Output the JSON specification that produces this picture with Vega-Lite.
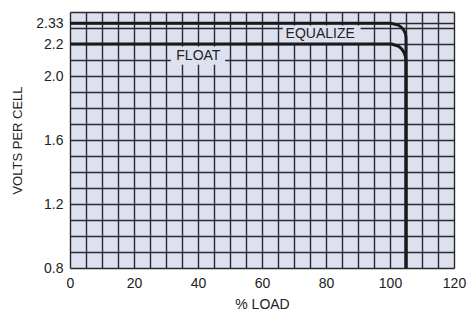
{
  "$schema": "https://vega.github.io/schema/vega-lite/v6.json",
  "width": 384,
  "height": 256,
  "autosize": {"type": "none"},
  "padding": {"left": 70, "top": 12, "right": 15, "bottom": 50},
  "background": "white",
  "config": {"view": {"fill": "#dde0ee", "stroke": null}, "font": "Liberation Sans"},
  "datasets": {
    "curves": [
      {"series": "EQUALIZE", "i": 1, "x": 0, "y": 2.33},
      {"series": "EQUALIZE", "i": 2, "x": 100.2, "y": 2.33},
      {"series": "EQUALIZE", "i": 3, "x": 102.6, "y": 2.318},
      {"series": "EQUALIZE", "i": 4, "x": 103.6, "y": 2.304},
      {"series": "EQUALIZE", "i": 5, "x": 104.35, "y": 2.285},
      {"series": "EQUALIZE", "i": 6, "x": 104.85, "y": 2.263},
      {"series": "EQUALIZE", "i": 7, "x": 105, "y": 2.24},
      {"series": "EQUALIZE", "i": 8, "x": 105, "y": 0.8},
      {"series": "FLOAT", "i": 1, "x": 0, "y": 2.2},
      {"series": "FLOAT", "i": 2, "x": 100.5, "y": 2.2},
      {"series": "FLOAT", "i": 3, "x": 102.7, "y": 2.186},
      {"series": "FLOAT", "i": 4, "x": 103.7, "y": 2.168},
      {"series": "FLOAT", "i": 5, "x": 104.4, "y": 2.146},
      {"series": "FLOAT", "i": 6, "x": 104.85, "y": 2.12},
      {"series": "FLOAT", "i": 7, "x": 105, "y": 2.09},
      {"series": "FLOAT", "i": 8, "x": 105, "y": 0.8}
    ],
    "boxes": [
      {"label": "EQUALIZE", "x": 66.5, "x2": 90.8, "y": 2.205, "y2": 2.315},
      {"label": "FLOAT", "x": 31.5, "x2": 48.5, "y": 2.07, "y2": 2.185}
    ],
    "labels": [
      {"label": "EQUALIZE", "x": 78.2, "y": 2.261},
      {"label": "FLOAT", "x": 40.1, "y": 2.125}
    ]
  },
  "encoding": {
    "x": {
      "field": "x",
      "type": "quantitative",
      "scale": {"domain": [0, 120], "nice": false, "zero": false},
      "axis": {
        "title": "% LOAD",
        "values": [0, 5, 10, 15, 20, 25, 30, 35, 40, 45, 50, 55, 60, 65, 70, 75, 80, 85, 90, 95, 100, 105, 110, 115, 120],
        "labelExpr": "datum.value % 20 === 0 ? datum.label : ''",
        "labelOverlap": false,
        "labelFlush": false,
        "grid": true,
        "gridColor": "#2a2a2a",
        "gridOpacity": 1,
        "gridWidth": 1.4,
        "domain": false,
        "ticks": false,
        "labelPadding": 8,
        "labelFontSize": 14,
        "labelColor": "#222222",
        "labelFont": "Liberation Sans",
        "titleFont": "Liberation Sans",
        "titleFontSize": 14,
        "titleFontWeight": "normal",
        "titleColor": "#222222",
        "titlePadding": 7
      }
    },
    "y": {
      "field": "y",
      "type": "quantitative",
      "scale": {"domain": [0.8, 2.4], "nice": false, "zero": false},
      "axis": {
        "title": "VOLTS PER CELL",
        "values": [0.8, 0.9, 1.0, 1.1, 1.2, 1.3, 1.4, 1.5, 1.6, 1.7, 1.8, 1.9, 2.0, 2.1, 2.2, 2.3, 2.4, 2.33],
        "labelExpr": "datum.value === 2.33 ? '2.33' : ((datum.value === 0.8 || datum.value === 1.2 || datum.value === 1.6 || datum.value === 2 || datum.value === 2.2) ? format(datum.value, '.1f') : '')",
        "labelOverlap": false,
        "labelFlush": false,
        "grid": true,
        "gridColor": "#2a2a2a",
        "gridOpacity": 1,
        "gridWidth": 1.4,
        "domain": false,
        "ticks": false,
        "labelPadding": 7,
        "labelFontSize": 14,
        "labelColor": "#222222",
        "labelFont": "Liberation Sans",
        "titleFont": "Liberation Sans",
        "titleFontSize": 13,
        "titleFontWeight": "normal",
        "titleColor": "#222222",
        "titlePadding": 11
      }
    }
  },
  "layer": [
    {
      "data": {"name": "boxes"},
      "mark": {"type": "rect", "fill": "#dde0ee"},
      "encoding": {"x2": {"field": "x2"}, "y2": {"field": "y2"}}
    },
    {
      "data": {"name": "curves"},
      "mark": {"type": "line", "stroke": "#1a1a1a", "strokeWidth": 3, "strokeCap": "butt", "strokeJoin": "round"},
      "encoding": {
        "detail": {"field": "series"},
        "order": {"field": "i", "type": "quantitative"}
      }
    },
    {
      "data": {"name": "labels"},
      "mark": {"type": "text", "fontSize": 14, "color": "#222222", "font": "Liberation Sans", "align": "center", "baseline": "middle"},
      "encoding": {"text": {"field": "label"}}
    }
  ]
}
